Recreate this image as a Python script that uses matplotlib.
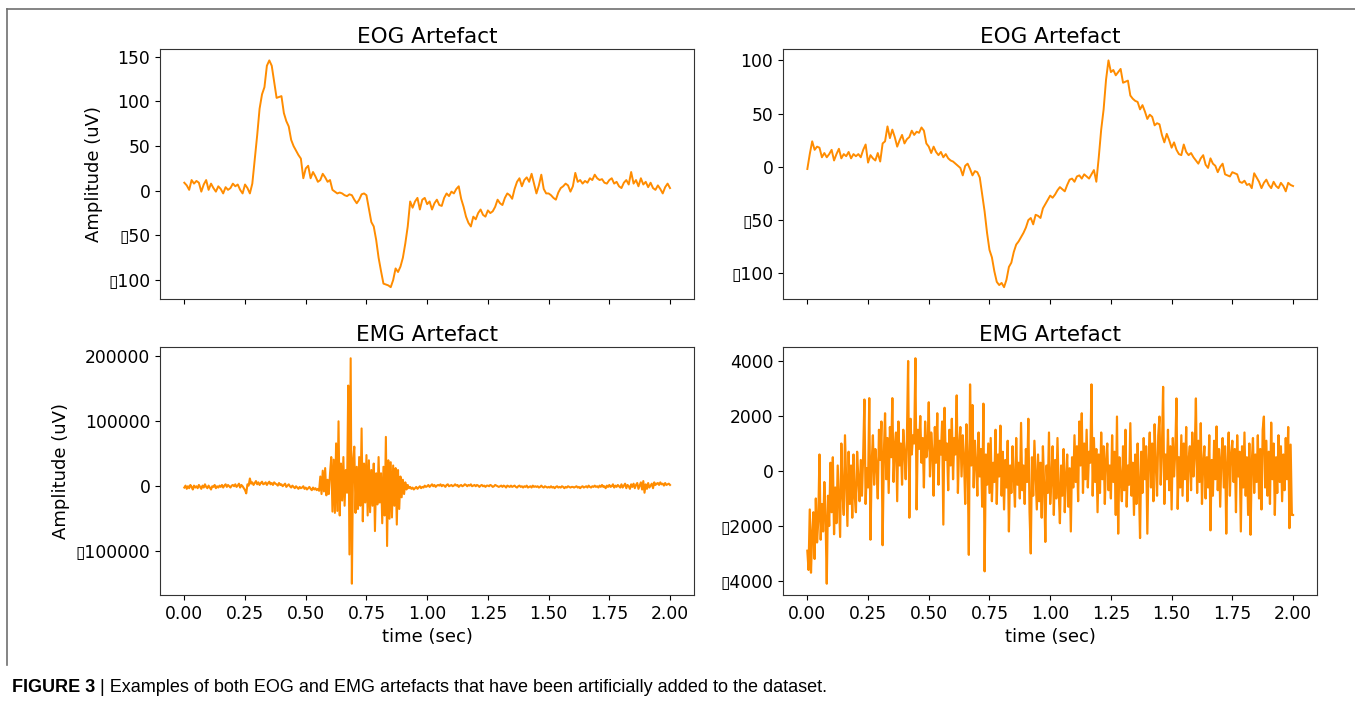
import numpy as np
import matplotlib
matplotlib.use('Agg')
import matplotlib.pyplot as plt
from matplotlib.ticker import FuncFormatter, MultipleLocator
from matplotlib.lines import Line2D

# EOG artefact, left panel (uV), 0.01 s steps
eog_left = [
    9, 6, 1, 12, 8, 11, 9, -1, 7, 12,
    1, 8, 3, -1, 5, 2, -3, 4, 1, 3,
    8, 5, 7, 1, -3, 7, 3, -3, 8, 35,
    62, 92, 108, 116, 140, 146, 140, 122, 104, 105,
    106, 87, 78, 72, 57, 50, 45, 40, 36, 14,
    25, 28, 14, 21, 16, 10, 12, 19, 15, 10,
    12, 1, -1, -3, -2, -3, -5, -6, -4, -5,
    -10, -14, -10, -4, -3, -5, -20, -35, -40, -55,
    -75, -90, -104, -105, -106, -108, -100, -87, -91, -85,
    -75, -59, -40, -12, -19, -12, -8, -21, -10, -8,
    -15, -12, -21, -14, -10, -16, -17, -8, -3, -6,
    -1, -3, 2, 5, -9, -18, -29, -36, -40, -29,
    -32, -25, -21, -27, -29, -22, -25, -23, -18, -10,
    -14, -16, -8, -3, -5, -9, 2, 10, 14, 5,
    12, 15, 10, 19, 8, -3, 6, 18, 2, -3,
    -3, -5, -8, -10, -2, 3, 5, 8, 6, -1,
    5, 20, 10, 12, 8, 11, 9, 14, 12, 18,
    14, 12, 13, 9, 8, 12, 14, 8, 10, 5,
    3, 9, 12, 7, 21, 8, 12, 5, 14, 7,
    10, 4, 9, 3, 1, 6, 2, -3, 4, 8,
    3,
]

# EOG artefact, right panel (uV), 0.01 s steps
eog_right = [
    -2, 12, 24, 16, 19, 18, 9, 13, 9, 12,
    16, 6, 12, 17, 8, 12, 10, 14, 8, 12,
    10, 12, 9, 16, 21, 4, 11, 8, 6, 13,
    5, 22, 24, 38, 27, 35, 28, 19, 25, 30,
    22, 26, 28, 34, 30, 33, 32, 37, 34, 22,
    19, 13, 19, 14, 11, 14, 9, 12, 8, 6,
    5, 3, 1, -1, -8, 1, 3, -2, -8, -4,
    -5, -10, -26, -42, -62, -78, -85, -98, -108, -111,
    -109, -113, -106, -94, -90, -80, -73, -70, -66, -62,
    -57, -50, -48, -54, -45, -46, -48, -39, -35, -31,
    -27, -29, -26, -22, -19, -21, -23, -17, -12, -11,
    -14, -9, -8, -11, -7, -9, -11, -7, -3, -14,
    9, 35, 54, 82, 100, 89, 91, 86, 89, 92,
    79, 80, 81, 67, 64, 62, 61, 54, 58, 52,
    45, 49, 47, 39, 41, 40, 30, 23, 31, 25,
    18, 23, 16, 12, 11, 21, 14, 11, 13, 9,
    6, 3, 8, 11, 2, -1, 8, 3, 1, -5,
    0, 3, -7, -8, -9, -5, -6, -7, -14, -15,
    -13, -17, -16, -20, -6, -10, -14, -20, -15, -12,
    -17, -20, -14, -18, -20, -15, -18, -23, -15, -17,
    -18,
]

# EMG artefact, left panel (thousands of uV), 0.005 s steps
emg_left_k = [
    -2, 1, -4, 0, -3, 2, -1, -5, 1, -2,
    0, -3, 2, -1, -4, 1, -2, 3, -1, -3,
    1, -2, -5, 0, -1, 2, -3, 0, -2, 1,
    -1, 2, -2, 1, 3, -1, 2, 0, -2, 1,
    2, 0, 3, -1, 1, 4, -2, 2, 0, -3,
    -6, -11, 3, 1, 12, 4, 6, 2, 5, 8,
    3, 6, 2, 5, 7, 3, 4, 6, 2, 5,
    7, 3, 5, 2, 6, 4, 3, 1, 5, 2,
    3, 0, 2, 4, -1, 1, 3, 0, -2, 1,
    -1, -3, 0, -2, -4, -1, -3, -2, 0, -4,
    -2, -5, -3, -1, -4, -6, -2, -5, -3, -6,
    -4, -7, 15, -12, 24, -8, 28, -14, 10, -12,
    20, 45, -39, 41, -41, 66, -38, 100, -45, 35,
    -22, 45, -30, 25, -10, 155, -105, 197, -150, 40,
    61, -41, 30, -35, 45, -30, 89, -54, 35, -25,
    48, -45, 40, -40, 25, -30, 35, -69, 20, -28,
    45, -25, 20, -57, 30, -45, 76, -92, 40, -50,
    37, -48, 32, -30, 28, -59, 25, -35, 15, -17,
    10, -12, 6, -5, 2, -3, -1, -4, -2, -5,
    -3, -1, -4, -2, 0, -3, -1, -2, 1, -1,
    0, 2, -1, 1, 3, 0, 2, -1, 1, 2,
    1, 3, 0, 2, 1, -1, 2, 3, 0, 1,
    2, 0, 1, 3, 1, 2, -1, 1, 2, 0,
    1, 3, 2, 0, 2, 1, 3, 0, 1, 2,
    0, 2, 1, -1, 1, 2, 0, 1, -1, 1,
    1, 0, 2, 1, -1, 0, 2, 1, 0, -1,
    0, 1, -1, 1, 0, -2, 1, 0, -1, 1,
    -1, 0, 1, -1, -2, 0, 1, -1, 0, -2,
    0, -1, 1, -2, -1, 0, -2, 1, -1, 0,
    -1, 0, -2, -1, 1, -1, -2, 0, -1, -2,
    -1, -2, 0, -2, -1, -3, -1, 0, -2, -1,
    -2, 0, -1, -3, -1, -2, 0, -1, -2, -1,
    -1, -2, -1, 0, -2, -1, -3, -1, 0, -2,
    -1, 0, -2, 1, -1, -2, 0, -1, 1, -1,
    0, -2, 1, -1, 2, -1, 0, -3, 1, -1,
    2, -1, 0, 3, -2, 1, -1, 2, 0, -2,
    3, -2, 1, 4, -3, 2, 0, -4, 3, -1,
    4, -3, 2, 5, -4, 1, 6, -5, 8, -10,
    3, -4, 5, -2, 1, 4, -3, 6, 2, 4,
    5, 2, 6, 3, 4, 1, 5, 2, 3, 4,
    2,
]

# EMG artefact, right panel (uV), 0.005 s steps
emg_right = [
    -2900, -3600, -1400, -3700, -2300, -1500, -3200, -1000, -2600, -1800,
    600, -2500, -1200, -2200, -400, -1700, -4100, -900, -2000, 300,
    -1500, 500, -2300, -600, -1900, 200, -1100, -2400, 1000, -800,
    -1600, 1300, -400, -2000, 700, -1200, 200, -1700, 600, -900,
    -1500, 700, -300, -1100, 400, -900, 600, 2600, -1200, 100,
    -600, 2650, -2500, 300, 1300, -500, 800, 200, -1000, 1500,
    400, 1800, -2700, 600, 2100, -300, 1200, -800, 1600, 500,
    2650, -400, 900, 1400, -1100, 1800, 200, 1000, -500, 1500,
    700, -300, 1200, 4000, -1700, 1900, 600, 1300, 1000, 4100,
    -1400, 1500, 800, 2000, 300, 1200, -600, 1800, 500, 900,
    2500, -200, 1400, 700, -900, 1600, 300, 2100, -500, 1100,
    600, 1800, -1950, 2300, 400, 1000, -700, 1500, 200, 1900,
    -300, 1200, 600, 2750, -800, 900, 1600, -200, 1300, 500,
    -1200, 1700, 400, -3050, 3150, 200, 2400, -600, 1100, 300,
    -900, 1400, -200, 800, -1300, 2450, -3650, 600, -500, 1000,
    -800, 1200, -1100, 300, -400, 1500, -1200, 600, -200, 1650,
    -900, 700, -1400, 400, -600, 1100, -2200, 200, -800, 900,
    -300, -1300, 1200, -500, 300, -1000, 1750, -700, 200, -1200,
    800, -400, 1900, -1500, -3000, 500, -900, 1100, -200, -1400,
    600, -1100, 300, -1700, 900, -500, -2580, 200, -800, 1400,
    -1200, -300, 900, -1600, 400, -1000, 1200, -700, -1900, 200,
    -900, 800, -1500, -200, 600, -1300, 100, -2200, 500, -600,
    1300, -400, 900, -1100, 1800, 200, 2100, -800, 1000, -300,
    1500, -600, 700, 300, 3150, -900, 1200, -400, 800, -1500,
    600, -800, 1400, -300, 900, -1200, 400, 1000, -700, 200,
    -1000, 1300, -400, 700, -1600, 1980, -2280, 500, -200, -1100,
    900, -700, 1500, -1300, 200, -500, 1740, -900, 300, -1600,
    600, -1200, 1000, -400, -2440, 700, -800, 1200, -300, 900,
    -2280, 400, 1400, -600, 1000, -1100, 1700, 200, -900, 1300,
    1980, -500, 800, 3060, -1200, 600, -300, 1500, -700, 900,
    -1400, 1200, -200, 700, 2640, -1380, 500, -600, 1300, -900,
    1000, -300, 1600, -1100, 400, 900, -700, 1400, -200, 600,
    2640, -800, 1100, -400, 1740, -1200, 300, 900, -1000, 500,
    -600, 1300, -2160, 400, -900, 1100, -300, 1620, -700, 800,
    -1300, 500, 1200, -600, 900, -2280, 300, 1400, -900, 600,
    1100, -400, 800, -1500, 1300, -200, 700, -2200, 900, -600,
    1400, -900, 500, -1600, 1000, -2320, 300, 1200, -800, 600,
    -400, 1300, -1000, 800, -1400, 1500, 1980, -600, 1100, -900,
    700, -1200, 1760, -300, 1000, -1600, 500, -800, 1300, -400,
    900, -1100, 600, -700, 1200, -300, 1600, -2080, 960, -1600,
    -1600,
]

titles = ['EOG Artefact', 'EOG Artefact', 'EMG Artefact', 'EMG Artefact']
caption_bold = 'FIGURE 3'
caption_rest = ' | Examples of both EOG and EMG artefacts that have been artificially added to the dataset.'

series = [eog_left, eog_right, np.array(emg_left_k) * 1000, emg_right]
y_steps = [50, 50, 100000, 2000]
line_widths = [1.4, 1.4, 1.5, 1.6]

color = '#ff8c00'


def boxed_minus(v, pos):
    # the source figure prints an empty box where the minus sign should be
    if v < 0:
        return '\u25af' + f'{abs(v):g}'
    return f'{v:g}'


fig = plt.figure(figsize=(13.55, 7.14), dpi=100)

lefts = [0.1181, 0.5779]
bottoms = [0.5819, 0.1667]
width = 0.3943
heights = [0.3494, 0.3473]

axes = []
for i in range(4):
    row, col = divmod(i, 2)
    ax = fig.add_axes([lefts[col], bottoms[row], width, heights[row]])
    axes.append(ax)
    y = series[i]
    t = np.linspace(0, 2, len(y))
    ax.plot(t, y, color=color, lw=line_widths[i])
    ax.set_title(titles[i], fontsize=15.5, pad=4)
    ax.yaxis.set_major_locator(MultipleLocator(y_steps[i]))
    ax.yaxis.set_major_formatter(FuncFormatter(boxed_minus))
    ax.set_xticks(np.arange(0, 2.01, 0.25))
    ax.tick_params(labelsize=12.3)
    for s in ax.spines.values():
        s.set_color('#333333')
    if row == 0:
        ax.tick_params(labelbottom=False)
    else:
        ax.xaxis.set_major_formatter(FuncFormatter(lambda v, p: f'{v:.2f}'))
        ax.set_xlabel('time (sec)', fontsize=13)
    if col == 0:
        ax.set_ylabel('Amplitude (uV)', fontsize=13)

# page frame around the figure
fig.add_artist(Line2D([7 / 1355, 1], [1 - 9 / 714, 1 - 9 / 714], color='#707070', lw=1.2))
fig.add_artist(Line2D([7 / 1355, 7 / 1355], [1 - 9 / 714, 1 - 665 / 714], color='#707070', lw=1.2))

cap = fig.text(12 / 1355, 1 - 692 / 714, caption_bold, fontsize=13, fontweight='bold',
               family='Liberation Sans', va='baseline')
plt.annotate(caption_rest, xy=(1, 0), xycoords=cap, va='bottom', ha='left',
             fontsize=13, family='Liberation Sans')

plt.savefig('out.png', dpi=100)
